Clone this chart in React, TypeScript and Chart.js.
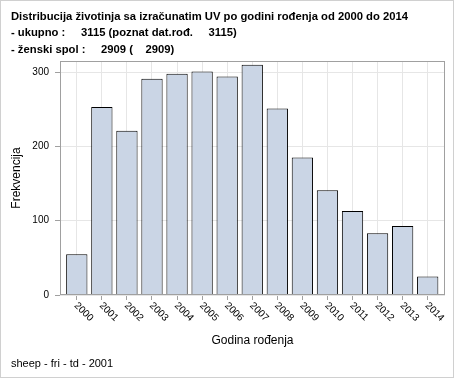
import { useEffect, useRef } from 'react';
import { Chart, registerables } from 'chart.js';

Chart.register(...registerables);

const years = ['2000', '2001', '2002', '2003', '2004', '2005', '2006', '2007', '2008', '2009', '2010', '2011', '2012', '2013', '2014'];
const counts = [55, 253, 221, 291, 298, 301, 294, 310, 251, 185, 141, 113, 83, 93, 25];
const yTicks = [0, 100, 200, 300];
const titleLines = [
  'Distribucija životinja sa izračunatim UV po godini rođenja od 2000 do 2014',
  '- ukupno :     3115 (poznat dat.rođ.     3115)',
  '- ženski spol :     2909 (    2909)',
];
const xTitle = 'Godina rođenja';
const yTitle = 'Frekvencija';
const footer = 'sheep - fri - td - 2001';

const FONT = '"Liberation Sans", Arial, sans-serif';

const decorPlugin = {
  id: 'decor',
  beforeDraw(chart: any) {
    const ctx = chart.ctx;
    ctx.save();
    ctx.fillStyle = '#ffffff';
    ctx.fillRect(0, 0, chart.width, chart.height);
    ctx.restore();
  },
  afterDatasetsDraw(chart: any) {
    const { ctx, chartArea } = chart;
    ctx.save();
    ctx.strokeStyle = '#a0a0a0';
    ctx.lineWidth = 1;
    ctx.strokeRect(chartArea.left + 0.5, chartArea.top + 0.5, chartArea.right - chartArea.left - 1, chartArea.bottom - chartArea.top - 1);
    ctx.restore();
  },
  afterDraw(chart: any) {
    const { ctx, chartArea } = chart;
    const xs = chart.scales.x;
    ctx.save();
    ctx.fillStyle = '#000';
    ctx.font = 'bold 11.25px ' + FONT;
    ctx.textAlign = 'left';
    ctx.textBaseline = 'alphabetic';
    const baselines = [20, 36, 53];
    titleLines.forEach((t, i) => ctx.fillText(t, 11, baselines[i]));
    ctx.font = '10px ' + FONT;
    ctx.textBaseline = 'middle';
    years.forEach((lab, i) => {
      const px = xs.getPixelForValue(i);
      ctx.save();
      ctx.translate(px - 1, chartArea.bottom + 9);
      ctx.rotate(Math.PI / 4);
      ctx.fillText(lab, 0, 0);
      ctx.restore();
    });
    ctx.font = '12px ' + FONT;
    ctx.textAlign = 'center';
    ctx.textBaseline = 'middle';
    ctx.fillText(xTitle, (chartArea.left + chartArea.right) / 2, 341);
    ctx.save();
    ctx.translate(17, (chartArea.top + chartArea.bottom) / 2);
    ctx.rotate(-Math.PI / 2);
    ctx.fillText(yTitle, 0, 0);
    ctx.restore();
    ctx.font = '11px ' + FONT;
    ctx.textAlign = 'left';
    ctx.fillText(footer, 11, 364);
    ctx.strokeStyle = '#d0d0d0';
    ctx.strokeRect(0.5, 0.5, chart.width - 1, chart.height - 1);
    ctx.restore();
  },
};

export default function App() {
  const ref = useRef<HTMLCanvasElement>(null);
  useEffect(() => {
    if (!ref.current) return;
    const chart = new Chart(ref.current, {
      type: 'bar',
      data: {
        datasets: [
          {
            data: counts.map((v, i) => ({ x: i, y: v })),
            backgroundColor: '#cad5e5',
            borderColor: '#000000',
            borderWidth: 1,
            barPercentage: 0.85,
            categoryPercentage: 1,
          },
        ],
      },
      options: {
        animation: false,
        responsive: false,
        devicePixelRatio: 1,
        layout: { padding: { left: 0, top: 61, right: 9, bottom: 0 } },
        plugins: { legend: { display: false }, tooltip: { enabled: false } },
        scales: {
          x: {
            type: 'linear',
            offset: false,
            min: -0.67,
            max: 14.69,
            afterBuildTicks: (s: any) => {
              s.ticks = years.map((_, i) => ({ value: i }));
            },
            afterFit: (s: any) => {
              s.height = 83;
            },
            ticks: { display: false },
            grid: { offset: false, color: '#e6e6e6', tickColor: '#a0a0a0', tickLength: 5, drawTicks: true },
            border: { display: false },
          },
          y: {
            min: 0,
            max: 315,
            afterBuildTicks: (s: any) => {
              s.ticks = yTicks.map((v) => ({ value: v }));
            },
            afterFit: (s: any) => {
              s.width = 60;
            },
            ticks: { font: { family: FONT, size: 10 }, color: '#000', padding: 6 },
            grid: { color: '#e6e6e6', tickColor: '#a0a0a0', tickLength: 5, drawTicks: true },
            border: { display: false },
          },
        },
      },
      plugins: [decorPlugin],
    });
    return () => chart.destroy();
  }, []);
  return (
    <div style={{ position: 'fixed', left: 0, top: 0, width: 454, height: 378 }}>
      <canvas ref={ref} width={454} height={378} style={{ display: 'block' }} />
    </div>
  );
}
